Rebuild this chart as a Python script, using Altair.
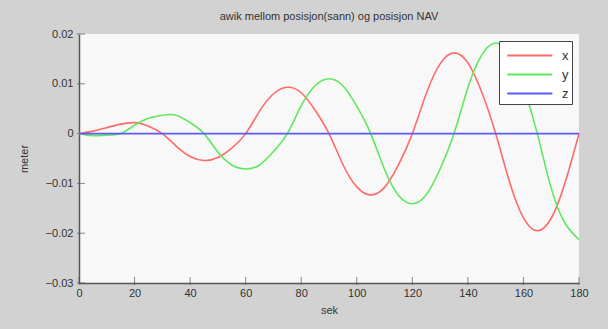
import altair as alt
import pandas as pd

t = [0, 5, 10, 15, 20, 25, 30, 35, 40, 45, 50, 55, 60, 65, 70, 75, 80, 85, 90,
     95, 100, 105, 110, 115, 120, 125, 130, 135, 140, 145, 150, 155, 160, 165,
     170, 175, 180]
x_vals = [0.0, 0.0005, 0.0012, 0.0019, 0.0022, 0.0015, 0.0, -0.0025, -0.0046,
          -0.0054, -0.0048, -0.0029, 0.0, 0.0045, 0.0080, 0.0093, 0.0082, 0.0047,
          0.0, -0.0062, -0.0107, -0.0123, -0.0108, -0.0063, 0.0, 0.0080, 0.0140,
          0.0162, 0.0142, 0.0083, 0.0, -0.0097, -0.0169, -0.0195, -0.0170,
          -0.0098, 0.0]
y_vals = [0.0, -0.0004, -0.0003, 0.0, 0.0017, 0.0031, 0.0037, 0.0037, 0.0022,
          0.0, -0.0037, -0.0063, -0.0071, -0.0063, -0.0036, 0.0, 0.0056, 0.0096,
          0.0110, 0.0096, 0.0055, 0.0, -0.0072, -0.0124, -0.0141, -0.0123,
          -0.0071, 0.0, 0.0092, 0.0158, 0.0182, 0.0160, 0.0093, 0.0, -0.0110,
          -0.0180, -0.0213]
z_vals = [0.0] * len(t)

series_names = ["x", "y", "z"]
series_colors = ["#ff6b6b", "#5ee85e", "#5a5aff"]
x_ticks = [0, 20, 40, 60, 80, 100, 120, 140, 160, 180]
y_ticks = [-0.03, -0.02, -0.01, 0, 0.01, 0.02]

rows = []
for name, vals in zip(series_names, [x_vals, y_vals, z_vals]):
    for ti, v in zip(t, vals):
        rows.append({"sek": ti, "meter": v, "serie": name})
df = pd.DataFrame(rows)

FONT = "Liberation Sans"
xscale = alt.Scale(domain=[0, 180], nice=False, zero=False)
yscale = alt.Scale(domain=[-0.03, 0.02], nice=False, zero=False)

lines = alt.Chart(df).mark_line(strokeWidth=1.6, interpolate="natural").encode(
    x=alt.X("sek:Q", scale=xscale, title="sek",
            axis=alt.Axis(values=x_ticks, format="d", tickSize=0, grid=False,
                          labelFlush=False,
                          domainColor="#555555", domainWidth=1.5,
                          labelFont=FONT, labelFontSize=11, labelColor="#333333",
                          labelPadding=4, titleFont=FONT, titleFontSize=11,
                          titleFontWeight="normal", titleColor="#333333",
                          titlePadding=6)),
    y=alt.Y("meter:Q", scale=yscale, title="meter",
            axis=alt.Axis(values=y_ticks, format="~g", tickSize=0, grid=False,
                          labelFlush=False,
                          domainColor="#555555", domainWidth=1.5,
                          labelFont=FONT, labelFontSize=11, labelColor="#333333",
                          labelPadding=6, titleFont=FONT, titleFontSize=11,
                          titleFontWeight="normal", titleColor="#333333",
                          titlePadding=16)),
    color=alt.Color("serie:N",
                    scale=alt.Scale(domain=series_names, range=series_colors),
                    legend=alt.Legend(title=None, orient="top-right", offset=7,
                                      symbolType="M-1,0L3.4,0", symbolSize=420,
                                      symbolStrokeWidth=2, symbolOffset=4,
                                      labelFont=FONT,
                                      labelFontSize=13, labelColor="#333333",
                                      fillColor="white", strokeColor="#444444",
                                      padding=3, rowPadding=0,
                                      labelOffset=33)),
)

xt = pd.DataFrame({"v": x_ticks})
yt = pd.DataFrame({"v": y_ticks})
xtick_layer = alt.Chart(xt).mark_tick(orient="vertical", size=8, yOffset=-2,
                                      color="#555555", thickness=1).encode(
    x=alt.X("v:Q", scale=xscale), y=alt.datum(-0.03, scale=yscale))
ytick_layer = alt.Chart(yt).mark_tick(orient="horizontal", size=8, xOffset=2,
                                      color="#555555", thickness=1).encode(
    y=alt.Y("v:Q", scale=yscale), x=alt.datum(0, scale=xscale))

chart = alt.layer(xtick_layer, ytick_layer, lines).properties(
    width=500, height=249,
    title=alt.Title("awik mellom posisjon(sann) og posisjon NAV", font=FONT,
                    fontSize=11, fontWeight="normal", color="#333333",
                    offset=6),
    autosize=alt.AutoSizeParams(type="none"),
    padding={"left": 79, "top": 34, "right": 29, "bottom": 46},
    background="#d2d2d2",
).configure_view(fill="#f8f8f8", stroke=None)

chart.save("out.html", embed_options={"renderer": "svg", "actions": False})
